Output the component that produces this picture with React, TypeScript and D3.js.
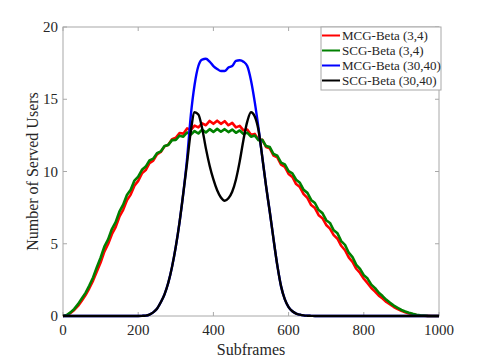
import React from "react";
import * as d3 from "d3";

const subframes: number[] = d3.range(0, 1001, 10);

const mcgBeta34: number[] = [
  0, 0.05, 0.2, 0.42, 0.7, 1.06, 1.45, 1.92, 2.45, 3.08,
  3.7, 4.45, 4.98, 5.66, 6.15, 6.87, 7.35, 8.01, 8.4, 9.02,
  9.35, 9.87, 10.1, 10.58, 10.75, 11.18, 11.35, 11.74, 11.85, 12.24,
  12.33, 12.66, 12.62, 12.98, 12.88, 13.18, 13.05, 13.33, 13.2, 13.5,
  13.3, 13.52, 13.3, 13.48, 13.2, 13.36, 13.05, 13.16, 12.85, 12.9,
  12.55, 12.6, 12.2, 12.2, 11.7, 11.6, 11.1, 10.98, 10.47, 10.32,
  9.83, 9.62, 9.13, 8.92, 8.43, 8.17, 7.68, 7.47, 6.98, 6.77,
  6.3, 6.05, 5.6, 5.35, 4.86, 4.55, 4.06, 3.74, 3.27, 2.98,
  2.58, 2.27, 1.94, 1.69, 1.41, 1.21, 0.97, 0.8, 0.62, 0.48,
  0.36, 0.26, 0.18, 0.12, 0.07, 0.04, 0.02, 0.01, 0, 0,
  0,
];

const scgBeta34: number[] = [
  0, 0.07, 0.25, 0.49, 0.82, 1.21, 1.6, 2.1, 2.67, 3.37,
  4.03, 4.8, 5.3, 6.02, 6.49, 7.22, 7.7, 8.37, 8.74, 9.37,
  9.64, 10.12, 10.34, 10.77, 10.89, 11.27, 11.39, 11.77, 11.84, 12.17,
  12.18, 12.48, 12.41, 12.7, 12.55, 12.8, 12.63, 12.9, 12.7, 12.93,
  12.74, 12.95, 12.75, 12.93, 12.73, 12.9, 12.68, 12.84, 12.6, 12.69,
  12.41, 12.49, 12.16, 12.19, 11.76, 11.69, 11.21, 11.09, 10.61, 10.49,
  10.03, 9.87, 9.43, 9.22, 8.73, 8.52, 8.03, 7.82, 7.33, 7.12,
  6.63, 6.44, 5.93, 5.72, 5.18, 4.92, 4.38, 4.07, 3.54, 3.26,
  2.83, 2.59, 2.17, 1.93, 1.61, 1.38, 1.12, 0.91, 0.72, 0.57,
  0.42, 0.31, 0.22, 0.15, 0.09, 0.05, 0.03, 0.01, 0, 0,
  0,
];

const mcgBeta3040: number[] = [
  0, 0, 0, 0, 0, 0, 0, 0, 0, 0,
  0, 0, 0, 0, 0, 0, 0, 0, 0, 0,
  0, 0.01, 0.03, 0.1, 0.25, 0.5, 0.95, 1.5, 2.3, 3.4,
  4.8, 6.5, 8.5, 10.9, 13.9, 16.0, 17.3, 17.75, 17.8, 17.6,
  17.3, 17.1, 16.95, 16.95, 17.2, 17.3, 17.65, 17.7, 17.6, 17.3,
  16.3, 14.8, 13.0, 11.0, 9.0, 7.2, 5.3, 3.5, 2.05, 1.15,
  0.62, 0.33, 0.17, 0.09, 0.04, 0.02, 0.01, 0, 0, 0,
  0, 0, 0, 0, 0, 0, 0, 0, 0, 0,
  0, 0, 0, 0, 0, 0, 0, 0, 0, 0,
  0, 0, 0, 0, 0, 0, 0, 0, 0, 0,
  0,
];

const scgBeta3040: number[] = [
  0, 0, 0, 0, 0, 0, 0, 0, 0, 0,
  0, 0, 0, 0, 0, 0, 0, 0, 0, 0,
  0, 0.01, 0.03, 0.1, 0.25, 0.5, 0.95, 1.5, 2.3, 3.4,
  4.8, 6.5, 8.5, 10.6, 12.8, 14.1, 13.95, 13.0, 11.6, 10.4,
  9.45, 8.7, 8.2, 7.98, 8.15, 8.6, 9.45, 10.7, 12.2, 13.45,
  14.1, 13.8, 12.85, 11.0, 9.0, 7.2, 5.3, 3.5, 2.05, 1.15,
  0.62, 0.33, 0.17, 0.09, 0.04, 0.02, 0.01, 0, 0, 0,
  0, 0, 0, 0, 0, 0, 0, 0, 0, 0,
  0, 0, 0, 0, 0, 0, 0, 0, 0, 0,
  0, 0, 0, 0, 0, 0, 0, 0, 0, 0,
  0,
];

const seriesNames = ["MCG-Beta (3,4)", "SCG-Beta (3,4)", "MCG-Beta (30,40)", "SCG-Beta (30,40)"];
const seriesValues = [mcgBeta34, scgBeta34, mcgBeta3040, scgBeta3040];
const seriesColors = ["#ff0000", "#008000", "#0000ff", "#000000"];
const seriesWidths = [2.6, 2.6, 2.4, 2.4];

const xTicks = [0, 200, 400, 600, 800, 1000];
const yTicks = [0, 5, 10, 15, 20];

const W = 485;
const H = 360;
const FONT = "'Liberation Serif', 'Times New Roman', serif";
const AXIS = "#a8a8a8";
const TEXT = "#262626";

export default function App() {
  const x = d3.scaleLinear().domain([0, 1000]).range([63, 439]);
  const y = d3.scaleLinear().domain([0, 20]).range([316, 27]);
  const x0 = x(0), x1 = x(1000), y0 = y(0), y1 = y(20);

  const makeLine = (vals: number[], smooth: boolean) =>
    d3
      .line<number>()
      .x((_, i) => x(subframes[i]))
      .y((v) => y(v))
      .curve(smooth ? d3.curveMonotoneX : d3.curveLinear)(vals) || "";

  const legendX = 321;
  const legendY = 27;
  const legendW = 120;
  const legendH = 63;
  const rowY = [35.5, 50.5, 65.5, 80.5];

  return (
    <svg width={W} height={H} style={{ position: "absolute", left: 0, top: 0, background: "#fff" }}>
      <rect x={0} y={0} width={W} height={H} fill="#fff" />
      <rect x={x0} y={y1} width={x1 - x0} height={y0 - y1} fill="none" stroke={AXIS} strokeWidth={1} />
      {xTicks.map((t) => (
        <g key={"xt" + t}>
          <line x1={x(t)} x2={x(t)} y1={y0} y2={y0 - 4} stroke={AXIS} />
          <line x1={x(t)} x2={x(t)} y1={y1} y2={y1 + 4} stroke={AXIS} />
          <text x={x(t)} y={335} textAnchor="middle" fontFamily={FONT} fontSize={15} fill={TEXT}>
            {t}
          </text>
        </g>
      ))}
      {yTicks.map((t) => (
        <g key={"yt" + t}>
          <line x1={x0} x2={x0 + 4} y1={y(t)} y2={y(t)} stroke={AXIS} />
          <line x1={x1} x2={x1 - 4} y1={y(t)} y2={y(t)} stroke={AXIS} />
          <text x={58} y={y(t) + 5} textAnchor="end" fontFamily={FONT} fontSize={15} fill={TEXT}>
            {t}
          </text>
        </g>
      ))}
      {seriesValues.map((vals, i) => (
        <path
          key={"s" + i}
          d={makeLine(vals, i >= 2)}
          fill="none"
          stroke={seriesColors[i]}
          strokeWidth={seriesWidths[i]}
          strokeLinejoin="round"
        />
      ))}
      <text x={(x0 + x1) / 2} y={355} textAnchor="middle" fontFamily={FONT} fontSize={16} fill={TEXT}>
        Subframes
      </text>
      <text
        transform={`translate(38, ${(y0 + y1) / 2}) rotate(-90)`}
        textAnchor="middle"
        fontFamily={FONT}
        fontSize={16}
        fill={TEXT}
      >
        Number of Served Users
      </text>
      <rect x={legendX} y={legendY} width={legendW} height={legendH} fill="#fff" stroke={AXIS} strokeWidth={1} />
      {seriesNames.map((name, i) => (
        <g key={"lg" + i}>
          <line x1={322} x2={340} y1={rowY[i]} y2={rowY[i]} stroke={seriesColors[i]} strokeWidth={2} />
          <text x={342} y={rowY[i] + 4.5} fontFamily={FONT} fontSize={13} fill={TEXT}>
            {name}
          </text>
        </g>
      ))}
    </svg>
  );
}
